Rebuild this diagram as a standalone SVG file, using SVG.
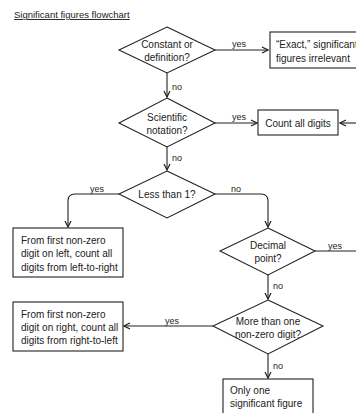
<svg xmlns="http://www.w3.org/2000/svg" width="356" height="413" viewBox="0 0 356 413">
<defs>
<marker id="arr" markerWidth="8" markerHeight="8" refX="7" refY="4" orient="auto" markerUnits="userSpaceOnUse">
<path d="M1,1 L7,4 L1,7" fill="none" stroke="#222" stroke-width="1.2"/>
</marker>
<style>
text{font-family:"Liberation Sans",Arial,sans-serif;fill:#222;}
.t{font-size:10px;}
.c{text-anchor:middle;}
.l{font-size:9px;}
.shape{fill:#fff;stroke:#222;stroke-width:1.1;}
.edge{fill:none;stroke:#222;stroke-width:1.1;}
</style>
</defs>
<rect width="356" height="413" fill="#fff"/>
<text x="14" y="18" font-size="9.5" text-decoration="underline">Significant figures flowchart</text>

<g id="connectors">
<path class="edge" d="M215,50 H268" marker-end="url(#arr)"/>
<path class="edge" d="M167,73 V97" marker-end="url(#arr)"/>
<path class="edge" d="M215,123 H257" marker-end="url(#arr)"/>
<path class="edge" d="M356,123 H340" marker-end="url(#arr)"/>
<path class="edge" d="M167,147 V170" marker-end="url(#arr)"/>
<path class="edge" d="M119,194 H75 Q68,194 68,201 V227" marker-end="url(#arr)"/>
<path class="edge" d="M215,194 H261 Q268,194 268,201 V227" marker-end="url(#arr)"/>
<path class="edge" d="M315,251 H356"/>
<path class="edge" d="M268,275 V299" marker-end="url(#arr)"/>
<path class="edge" d="M213,326 H124" marker-end="url(#arr)"/>
<path class="edge" d="M268,354 V378" marker-end="url(#arr)"/>
<text class="l" x="232" y="47">yes</text>
<text class="l" x="172" y="90">no</text>
<text class="l" x="232" y="120">yes</text>
<text class="l" x="172" y="161">no</text>
<text class="l" x="90" y="192">yes</text>
<text class="l" x="231" y="192">no</text>
<text class="l" x="328" y="249">yes</text>
<text class="l" x="273" y="289">no</text>
<text class="l" x="165" y="324">yes</text>
<text class="l" x="273" y="369">no</text>
</g>

<g id="d-constant">
<polygon class="shape" points="167,27 215,50 167,73 119,50"/>
<text class="t c" x="167" y="47.5">Constant or</text>
<text class="t c" x="167" y="60.5">definition?</text>
</g>
<g id="b-exact">
<rect class="shape" x="270" y="32" width="100" height="36"/>
<text class="t" x="276" y="47.5">“Exact,” significant</text>
<text class="t" x="276" y="61.5">figures irrelevant</text>
</g>
<g id="d-scientific">
<polygon class="shape" points="167,98 215,123 167,147 119,123"/>
<text class="t c" x="167" y="120.5">Scientific</text>
<text class="t c" x="167" y="133.5">notation?</text>
</g>
<g id="b-countall">
<rect class="shape" x="258" y="110" width="80" height="25"/>
<text class="t c" x="298" y="126.5" font-size="10.5">Count all digits</text>
</g>
<g id="d-less">
<polygon class="shape" points="167,171 215,194 167,218 119,194"/>
<text class="t c" x="167" y="197.5">Less than 1?</text>
</g>
<g id="b-left">
<rect class="shape" x="13" y="228" width="110" height="49"/>
<text class="t" x="21" y="243.5">From first non-zero</text>
<text class="t" x="21" y="256.5">digit on left, count all</text>
<text class="t" x="21" y="270.5">digits from left-to-right</text>
</g>
<g id="d-decimal">
<polygon class="shape" points="268,228 315,251 268,275 220,251"/>
<text class="t c" x="268" y="248.5">Decimal</text>
<text class="t c" x="268" y="261.5">point?</text>
</g>
<g id="d-more">
<polygon class="shape" points="268,300 323,326 268,354 213,326"/>
<text class="t c" x="268" y="324.5" font-size="9.5">More than one</text>
<text class="t c" x="268" y="337.5" font-size="9.5">non-zero digit?</text>
</g>
<g id="b-right">
<rect class="shape" x="13" y="302" width="110" height="49"/>
<text class="t" x="21" y="317.5">From first non-zero</text>
<text class="t" x="21" y="330.5">digit on right, count all</text>
<text class="t" x="21" y="343.5">digits from right-to-left</text>
</g>
<g id="b-one">
<rect class="shape" x="223" y="379" width="90" height="42"/>
<text class="t" x="230" y="393.5">Only one</text>
<text class="t" x="230" y="406.5">significant figure</text>
</g>
</svg>
